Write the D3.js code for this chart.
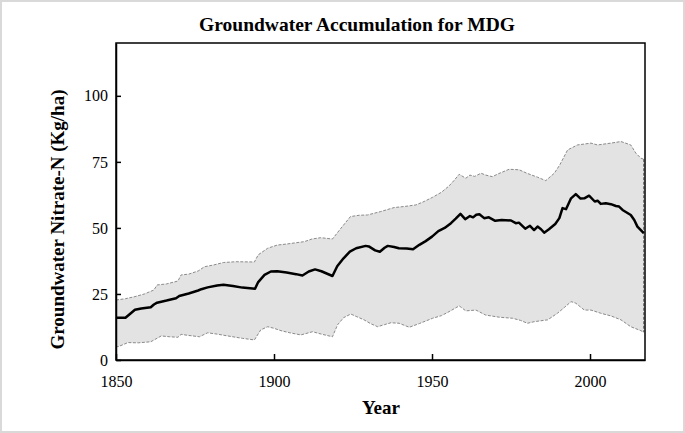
<!DOCTYPE html>
<html>
<head>
<meta charset="utf-8">
<script src="https://cdn.jsdelivr.net/npm/d3@7"></script>
<style>
  html, body { margin: 0; padding: 0; background: #fff; }
  svg text { font-family: "Liberation Serif", "Times New Roman", serif; fill: #000; }
</style>
</head>
<body>
<script>
const chartTitle = "Groundwater Accumulation for MDG";
const xLabel = "Year";
const yLabel = "Groundwater Nitrate-N (Kg/ha)";
const xTicks = [1850, 1900, 1950, 2000];
const yTicks = [0, 25, 50, 75, 100];

const meanYears = [1850,1853,1854.5,1856,1858,1861,1862,1863,1866,1869,1870,1873,1876,1877,1879,1882,1884,1887,1890,1894,1895,1897,1899,1901,1904,1907,1909,1911,1913,1915,1918.5,1920,1922,1924,1926,1929,1930,1932,1933.5,1935,1936,1938,1939.5,1942,1944,1946,1948,1950,1952,1954,1956,1957.5,1959,1960.5,1962,1963,1964,1965,1966.5,1968,1970,1972,1975,1976.5,1977.5,1979.5,1981,1982.3,1983.4,1984.5,1985.5,1987,1989,1990.3,1991.3,1992.4,1994,1995.5,1997,1998.2,1999.7,2001.5,2002.4,2003.4,2005,2006.6,2008.2,2009.2,2010.3,2012.9,2014,2015,2017];
const meanValues = [16,16,17.5,19,19.5,20,21,21.7,22.5,23.4,24.2,25.2,26.3,26.8,27.5,28.2,28.5,28,27.4,27,29.5,32.2,33.5,33.6,33.1,32.5,32,33.5,34.3,33.6,31.8,35.5,38.5,41,42.3,43.2,43,41.5,41,42.5,43.2,42.8,42.3,42.2,41.9,43.6,45,46.7,48.8,50,51.8,53.5,55.3,53.3,54.5,54,55,55.2,53.7,54,52.7,53,52.8,51.8,52,49.7,50.8,49.2,50.5,49.5,48.2,49.5,51.5,53.7,57.5,57.1,61.2,62.8,61.1,61.2,62.2,60,60.3,59.1,59.3,59,58.3,58.1,56.8,54.9,53,50.5,48];

const upperYears = [1850,1853,1856,1859,1862,1863,1866,1869.6,1870.6,1873,1876,1878,1881,1884,1888,1893.8,1895,1898,1901,1904,1909.6,1912,1914.8,1918.5,1921.2,1924.2,1927,1929.6,1933.8,1938,1941.2,1944.9,1947.5,1950.2,1953,1955.4,1957,1958.6,1960.7,1962,1963.5,1965.5,1967,1969.1,1971,1974.4,1977.6,1980,1983.4,1986,1988.7,1990.5,1992.9,1996,2000.3,2002.4,2006.6,2009.8,2012.9,2014.5,2016.1,2017];
const upperValues = [22.7,23.2,24,25,26.5,28.4,28.8,29.9,32.2,32.5,33.7,35.3,36,36.9,37.2,37.1,39.8,42.3,43.5,43.9,44.8,45.8,46.3,45.8,49.9,54.3,54.8,54.9,56.2,57.7,58.1,58.7,60,61.6,63.5,65.9,68,70.3,68.8,70,69.5,70.7,70,69.4,70.5,72.2,72,70.7,69.2,67.9,70.7,74,79.5,81.4,82.1,81.4,82.1,82.7,81.4,78.3,76.4,76];

const lowerYears = [1850,1850.6,1853.8,1857,1861,1864.3,1867,1869.6,1870.6,1873,1876.4,1879,1882,1885.4,1890,1893.8,1895.8,1898,1900,1902.2,1905,1908.5,1912.2,1915,1918.5,1920.1,1922,1924.3,1926,1928.5,1930.5,1932.8,1935,1937,1939.6,1942.8,1946,1950.2,1953,1955.4,1958.6,1960.7,1963.9,1967,1971.3,1975.5,1978,1980.2,1982.3,1986.6,1989.7,1992,1994,1995.5,1998.2,2000.3,2003.4,2006.6,2009.8,2012.9,2016.1,2017];
const lowerValues = [5.4,5,6.6,6.5,6.9,9.1,8.8,8.6,9.7,9.3,8.8,10.3,9.8,9.1,8.2,7.6,11.4,12.6,12,11.1,10.3,9.5,10.7,9.8,8.8,13.3,16,17.4,16.5,15.2,13.8,12.6,13.4,14.1,13.9,12.4,13.8,15.8,16.8,18.3,20.5,18.6,18.9,17,16.2,15.8,15,13.9,14.5,15.2,17.7,20,22.1,21.5,18.9,18.9,17.7,16.7,15.2,12.6,11.1,10.5];

const W = 685, H = 433;
const margin = { left: 116, right: 40, top: 43, bottom: 73 };

const svg = d3.select("body").append("svg")
  .attr("width", W).attr("height", H);

svg.append("rect").attr("x", 1).attr("y", 1).attr("width", W - 2).attr("height", H - 2)
  .attr("fill", "#fff").attr("stroke", "#d9d9d9").attr("stroke-width", 2);

const x = d3.scaleLinear().domain([1850, 2017.4]).range([margin.left, W - margin.right]);
const y = d3.scaleLinear().domain([0, 120]).range([H - margin.bottom, margin.top]);

const upperPts = upperYears.map((d, i) => [d, upperValues[i]]);
const lowerPts = lowerYears.map((d, i) => [d, lowerValues[i]]);
const bandPts = upperPts.concat(lowerPts.slice().reverse());

const lineGen = d3.line().x(d => x(d[0])).y(d => y(d[1]));

svg.append("path").datum(bandPts)
  .attr("d", d => lineGen(d) + "Z")
  .attr("fill", "#e3e3e3")
  .attr("stroke", "none");

svg.append("path").datum(upperPts).attr("d", lineGen)
  .attr("fill", "none").attr("stroke", "#8a8a8a").attr("stroke-width", 1)
  .attr("stroke-dasharray", "3,1.5");
svg.append("path").datum(lowerPts).attr("d", lineGen)
  .attr("fill", "none").attr("stroke", "#8a8a8a").attr("stroke-width", 1)
  .attr("stroke-dasharray", "3,1.5");
svg.append("path").datum([upperPts[upperPts.length - 1], lowerPts[lowerPts.length - 1]]).attr("d", lineGen)
  .attr("fill", "none").attr("stroke", "#555").attr("stroke-width", 1)
  .attr("stroke-dasharray", "3,1.5");

const meanPts = meanYears.map((d, i) => [d, meanValues[i]]);
svg.append("path").datum(meanPts).attr("d", lineGen)
  .attr("fill", "none").attr("stroke", "#000").attr("stroke-width", 2.5)
  .attr("stroke-linejoin", "round");

// frame
svg.append("rect")
  .attr("x", margin.left).attr("y", margin.top)
  .attr("width", W - margin.right - margin.left)
  .attr("height", H - margin.bottom - margin.top)
  .attr("fill", "none").attr("stroke", "#000").attr("stroke-width", 1.5);

// axes
const xAxis = d3.axisBottom(x).tickValues(xTicks).tickFormat(d3.format("d"))
  .tickSizeInner(-6).tickSizeOuter(0).tickPadding(16);
const gx = svg.append("g").attr("transform", `translate(0,${H - margin.bottom})`).call(xAxis);
gx.select(".domain").attr("stroke", "#000").attr("stroke-width", 1.5);
gx.selectAll(".tick line").attr("stroke", "#000").attr("stroke-width", 1.5);
gx.selectAll("text").attr("font-size", 16).attr("font-family", "Liberation Serif");

const yAxis = d3.axisLeft(y).tickValues(yTicks)
  .tickSizeInner(-5).tickSizeOuter(0).tickPadding(8);
const gy = svg.append("g").attr("transform", `translate(${margin.left},0)`).call(yAxis);
gy.select(".domain").attr("stroke", "#000").attr("stroke-width", 1.5);
gy.selectAll(".tick line").attr("stroke", "#000").attr("stroke-width", 1.5);
gy.selectAll("text").attr("font-size", 16).attr("font-family", "Liberation Serif");

svg.append("text").attr("x", 357).attr("y", 31).attr("text-anchor", "middle")
  .attr("font-size", 19.5).attr("font-weight", "bold").text(chartTitle);

svg.append("text").attr("x", 381).attr("y", 414).attr("text-anchor", "middle")
  .attr("font-size", 19).attr("font-weight", "bold").text(xLabel);

svg.append("text").attr("transform", `translate(64,${(margin.top + H - margin.bottom) / 2 + 18}) rotate(-90)`)
  .attr("text-anchor", "middle")
  .attr("font-size", 19).attr("font-weight", "bold").text(yLabel);
</script>
</body>
</html>
